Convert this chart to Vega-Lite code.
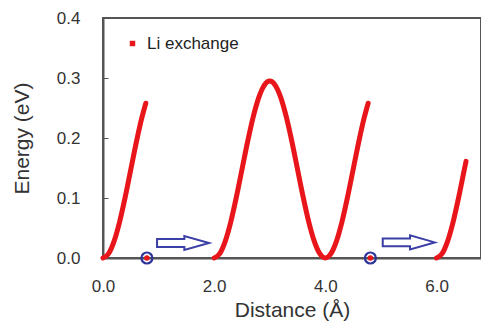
{
  "$schema": "https://vega.github.io/schema/vega-lite/v6.json",
  "autosize": "none",
  "width": 378,
  "height": 240,
  "padding": {"left": 103, "top": 18, "right": 0, "bottom": 67},
  "background": "white",
  "config": {
    "font": "Liberation Sans",
    "view": {"stroke": "#555555", "strokeWidth": 2},
    "axis": {"grid": false, "domainColor": "#555555", "domainWidth": 2, "tickColor": "#555555", "labelColor": "#333333", "titleColor": "#333333", "labelFontSize": 17, "titleFontSize": 21, "titleFontWeight": "normal", "labelFlush": false}
  },
  "datasets": {
    "curve": [
      {"d": 0.0, "e": 0.0, "seg": "a"}, {"d": 0.1, "e": 0.0072, "seg": "a"}, {"d": 0.2, "e": 0.0282, "seg": "a"}, {"d": 0.3, "e": 0.0608, "seg": "a"}, {"d": 0.4, "e": 0.1019, "seg": "a"}, {"d": 0.5, "e": 0.1475, "seg": "a"}, {"d": 0.6, "e": 0.1931, "seg": "a"}, {"d": 0.7, "e": 0.2342, "seg": "a"}, {"d": 0.77, "e": 0.258, "seg": "a"},
      {"d": 2.0, "e": 0.0, "seg": "b"}, {"d": 2.1, "e": 0.0072, "seg": "b"}, {"d": 2.2, "e": 0.0282, "seg": "b"}, {"d": 2.3, "e": 0.0608, "seg": "b"}, {"d": 2.4, "e": 0.1019, "seg": "b"}, {"d": 2.5, "e": 0.1475, "seg": "b"}, {"d": 2.6, "e": 0.1931, "seg": "b"}, {"d": 2.7, "e": 0.2342, "seg": "b"}, {"d": 2.8, "e": 0.2668, "seg": "b"}, {"d": 2.9, "e": 0.2878, "seg": "b"}, {"d": 3.0, "e": 0.295, "seg": "b"}, {"d": 3.1, "e": 0.2878, "seg": "b"}, {"d": 3.2, "e": 0.2668, "seg": "b"}, {"d": 3.3, "e": 0.2342, "seg": "b"}, {"d": 3.4, "e": 0.1931, "seg": "b"}, {"d": 3.5, "e": 0.1475, "seg": "b"}, {"d": 3.6, "e": 0.1019, "seg": "b"}, {"d": 3.7, "e": 0.0608, "seg": "b"}, {"d": 3.8, "e": 0.0282, "seg": "b"}, {"d": 3.9, "e": 0.0072, "seg": "b"}, {"d": 4.0, "e": 0.0, "seg": "b"}, {"d": 4.1, "e": 0.0072, "seg": "b"}, {"d": 4.2, "e": 0.0282, "seg": "b"}, {"d": 4.3, "e": 0.0608, "seg": "b"}, {"d": 4.4, "e": 0.1019, "seg": "b"}, {"d": 4.5, "e": 0.1475, "seg": "b"}, {"d": 4.6, "e": 0.1931, "seg": "b"}, {"d": 4.7, "e": 0.2342, "seg": "b"}, {"d": 4.77, "e": 0.258, "seg": "b"},
      {"d": 6.0, "e": 0.0, "seg": "c"}, {"d": 6.1, "e": 0.0072, "seg": "c"}, {"d": 6.2, "e": 0.0282, "seg": "c"}, {"d": 6.3, "e": 0.0608, "seg": "c"}, {"d": 6.4, "e": 0.1019, "seg": "c"}, {"d": 6.5, "e": 0.1475, "seg": "c"}, {"d": 6.53, "e": 0.161, "seg": "c"}
    ],
    "markers": [{"d": 0.79, "e": 0.0}, {"d": 4.81, "e": 0.0}],
    "arrows": [{"d": 1.44, "e": 0.025}, {"d": 5.5, "e": 0.026}]
  },
  "layer": [
    {
      "data": {"name": "curve"},
      "mark": {"type": "line", "strokeWidth": 5, "strokeCap": "round", "strokeJoin": "round", "interpolate": "monotone"},
      "encoding": {
        "x": {"field": "d", "type": "quantitative", "scale": {"domain": [0, 6.8], "nice": false}, "axis": {"values": [0, 2, 4, 6], "format": ".1f", "ticks": false, "labelPadding": 20, "title": "Distance (Å)", "titlePadding": 5}},
        "y": {"field": "e", "type": "quantitative", "scale": {"domain": [0, 0.4], "nice": false}, "axis": {"values": [0, 0.1, 0.2, 0.3, 0.4], "format": ".1f", "tickSize": -5, "labelPadding": 28, "title": "Energy (eV)", "titlePadding": 24}},
        "detail": {"field": "seg"},
        "color": {"datum": "Li exchange", "type": "nominal", "scale": {"range": ["#e8161b"]}, "legend": {"orient": "none", "legendX": 21, "legendY": 17, "title": null, "symbolType": "square", "symbolSize": 30, "symbolFillColor": "#e8161b", "symbolStrokeWidth": 0, "labelFontSize": 17, "labelColor": "#222222", "labelOffset": 6}}
      }
    },
    {
      "data": {"name": "markers"},
      "mark": {"type": "point", "shape": "circle", "size": 120, "stroke": "#2f3499", "strokeWidth": 2.2, "filled": false, "opacity": 1},
      "encoding": {"x": {"field": "d", "type": "quantitative"}, "y": {"field": "e", "type": "quantitative"}}
    },
    {
      "data": {"name": "markers"},
      "mark": {"type": "point", "shape": "circle", "size": 30, "fill": "#e8161b", "filled": true, "opacity": 1, "strokeWidth": 0},
      "encoding": {"x": {"field": "d", "type": "quantitative"}, "y": {"field": "e", "type": "quantitative"}}
    },
    {
      "data": {"name": "arrows"},
      "mark": {"type": "point", "shape": "M -1 -0.15 L 0.05 -0.15 L 0.05 -0.27 L 1 0 L 0.05 0.27 L 0.05 0.15 L -1 0.15 Z", "size": 2704, "stroke": "#3b3fa6", "strokeWidth": 2, "fill": "white", "filled": true, "opacity": 1},
      "encoding": {"x": {"field": "d", "type": "quantitative"}, "y": {"field": "e", "type": "quantitative"}}
    }
  ]
}
